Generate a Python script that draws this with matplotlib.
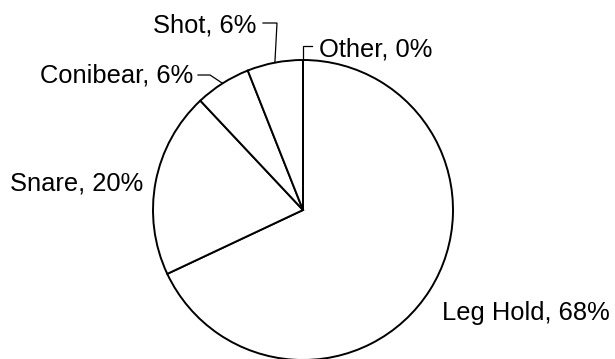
import numpy as np
import matplotlib
matplotlib.use("Agg")
import matplotlib.pyplot as plt

plt.rcParams['font.family'] = ['Liberation Sans', 'DejaVu Sans']

categories = ["Leg Hold", "Snare", "Conibear", "Shot", "Other"]
percents = [68, 20, 6, 6, 0]

W, H = 615, 359
fig = plt.figure(figsize=(W / 100, H / 100), dpi=100)
ax = fig.add_axes([0, 0, 1, 1])

cx, cy, r = 303, H - 210, 150
wedges, _ = ax.pie(percents, startangle=90, counterclock=False,
                   center=(cx, cy), radius=r, frame=True,
                   wedgeprops=dict(facecolor='white', edgecolor='black',
                                   linewidth=1.4))
ax.set_xlim(0, W)
ax.set_ylim(0, H)
ax.set_aspect('auto')
ax.axis('off')


def anchor(w):
    mid = np.deg2rad((w.theta1 + w.theta2) / 2)
    return cx + r * np.cos(mid), cy + r * np.sin(mid)


# label placement: (text x, text baseline y in pixels from top, ha, leader elbow path)
layout = {
    "Leg Hold": (442, 320, 'left', None),
    "Snare": (10, 190, 'left', None),
    "Conibear": (40, 83, 'left', [(210, 75), (198, 75)]),
    "Shot": (153, 33, 'left', [(277, 23), (263, 23)]),
    "Other": (319, 56, 'left', [(303, 46), (312, 46)]),
}

for w, name, pct in zip(wedges, categories, percents):
    tx, ty, ha, path = layout[name]
    ax.text(tx, H - ty, f"{name}, {pct}%", fontsize=18.4, ha=ha,
            va='baseline', color='black')
    if path:
        ax_, ay_ = anchor(w)
        xs = [ax_] + [p[0] for p in path]
        ys = [ay_] + [H - p[1] for p in path]
        ax.plot(xs, ys, color='black', lw=0.9, solid_joinstyle='miter')

fig.savefig("out.png", dpi=100, facecolor='white')
